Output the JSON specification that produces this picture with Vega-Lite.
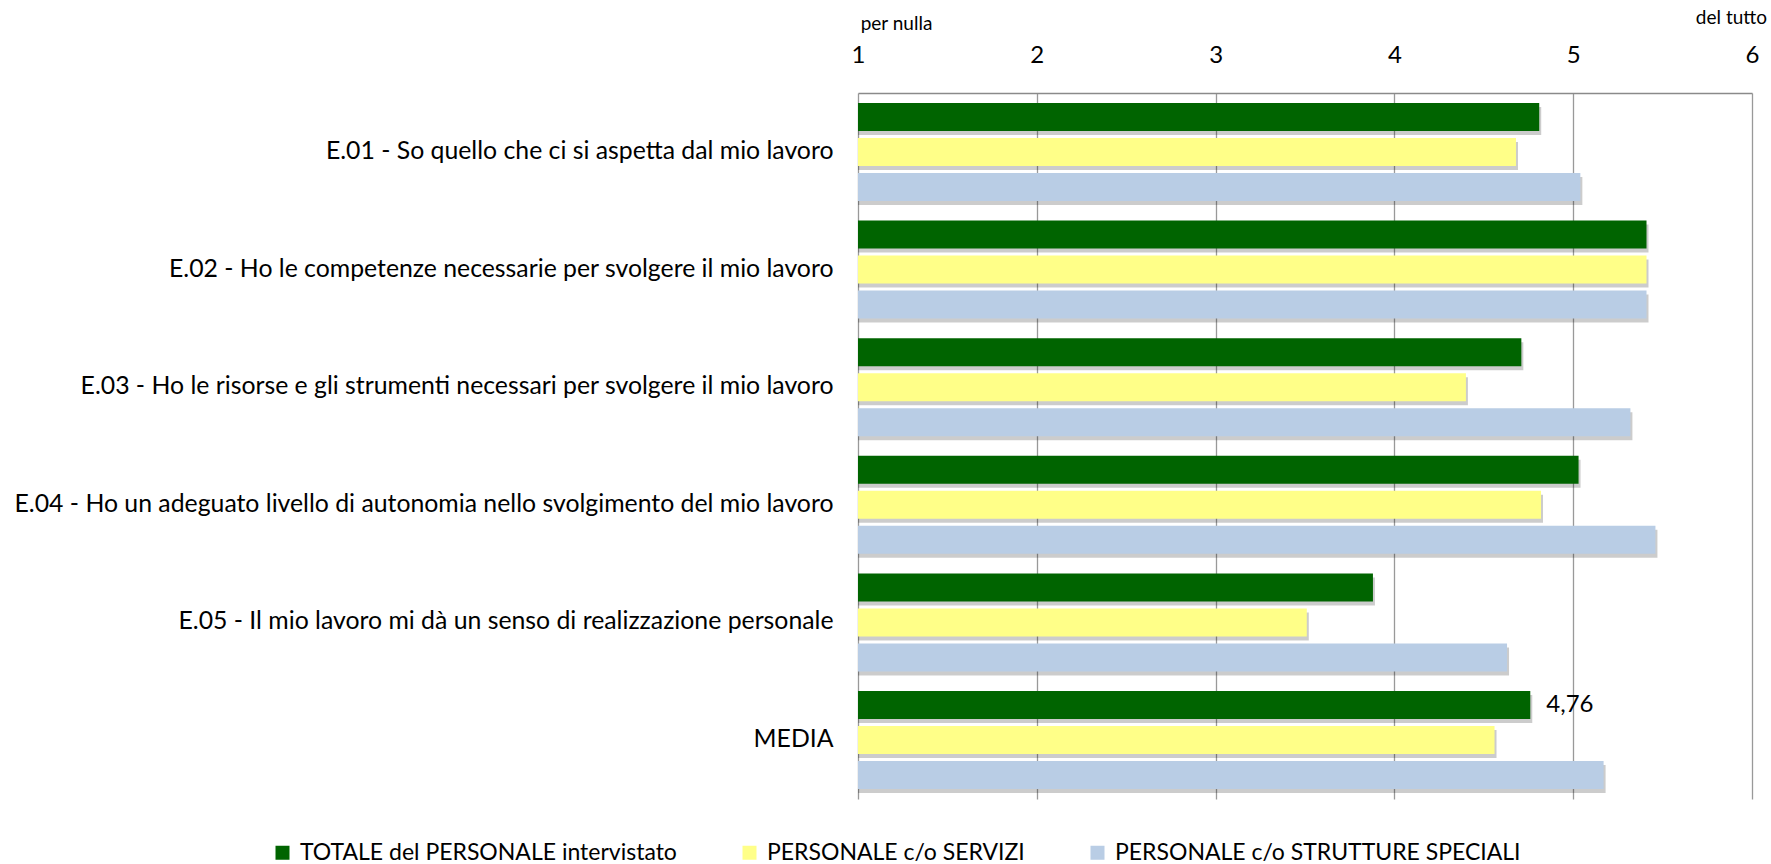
{
  "$schema": "https://vega.github.io/schema/vega-lite/v6.json",
  "width": 894,
  "height": 706,
  "autosize": "none",
  "padding": {"left": 858, "top": 93, "right": 19, "bottom": 65},
  "background": "white",
  "config": {
    "font": "Lato",
    "view": {"stroke": null},
    "locale": {"number": {"decimal": ",", "thousands": ".", "grouping": [3], "currency": ["", " €"]}}
  },
  "title": {
    "text": "del tutto",
    "anchor": "end",
    "frame": "group",
    "fontSize": 19,
    "fontWeight": "normal",
    "font": "Lato",
    "color": "#000000",
    "dx": 15,
    "offset": 0,
    "dy": 14
  },
  "data": {
    "values": [
      {"item": "E.01 - So quello che ci si aspetta dal mio lavoro", "series": "TOTALE del PERSONALE intervistato", "value": 4.81},
      {"item": "E.01 - So quello che ci si aspetta dal mio lavoro", "series": "PERSONALE c/o SERVIZI", "value": 4.68},
      {"item": "E.01 - So quello che ci si aspetta dal mio lavoro", "series": "PERSONALE c/o STRUTTURE SPECIALI", "value": 5.04},
      {"item": "E.02 - Ho le competenze necessarie per svolgere il mio lavoro", "series": "TOTALE del PERSONALE intervistato", "value": 5.41},
      {"item": "E.02 - Ho le competenze necessarie per svolgere il mio lavoro", "series": "PERSONALE c/o SERVIZI", "value": 5.41},
      {"item": "E.02 - Ho le competenze necessarie per svolgere il mio lavoro", "series": "PERSONALE c/o STRUTTURE SPECIALI", "value": 5.41},
      {"item": "E.03 - Ho le risorse e gli strumenti necessari per svolgere il mio lavoro", "series": "TOTALE del PERSONALE intervistato", "value": 4.71},
      {"item": "E.03 - Ho le risorse e gli strumenti necessari per svolgere il mio lavoro", "series": "PERSONALE c/o SERVIZI", "value": 4.40},
      {"item": "E.03 - Ho le risorse e gli strumenti necessari per svolgere il mio lavoro", "series": "PERSONALE c/o STRUTTURE SPECIALI", "value": 5.32},
      {"item": "E.04 - Ho un adeguato livello di autonomia nello svolgimento del mio lavoro", "series": "TOTALE del PERSONALE intervistato", "value": 5.03},
      {"item": "E.04 - Ho un adeguato livello di autonomia nello svolgimento del mio lavoro", "series": "PERSONALE c/o SERVIZI", "value": 4.82},
      {"item": "E.04 - Ho un adeguato livello di autonomia nello svolgimento del mio lavoro", "series": "PERSONALE c/o STRUTTURE SPECIALI", "value": 5.46},
      {"item": "E.05 - Il mio lavoro mi dà un senso di realizzazione personale", "series": "TOTALE del PERSONALE intervistato", "value": 3.88},
      {"item": "E.05 - Il mio lavoro mi dà un senso di realizzazione personale", "series": "PERSONALE c/o SERVIZI", "value": 3.51},
      {"item": "E.05 - Il mio lavoro mi dà un senso di realizzazione personale", "series": "PERSONALE c/o STRUTTURE SPECIALI", "value": 4.63},
      {"item": "MEDIA", "series": "TOTALE del PERSONALE intervistato", "value": 4.76},
      {"item": "MEDIA", "series": "PERSONALE c/o SERVIZI", "value": 4.56},
      {"item": "MEDIA", "series": "PERSONALE c/o STRUTTURE SPECIALI", "value": 5.17}
    ]
  },
  "encoding": {
    "y": {
      "field": "item",
      "type": "nominal",
      "sort": null,
      "scale": {"paddingInner": 0.167, "paddingOuter": 0.085},
      "axis": {
        "title": null,
        "domain": false,
        "ticks": false,
        "labelFontSize": 24.8,
        "labelFont": "Lato",
        "labelColor": "#000000",
        "labelPadding": 25,
        "labelLimit": 900
      }
    },
    "x": {
      "field": "value",
      "type": "quantitative",
      "scale": {"domain": [1, 6], "nice": false, "zero": false},
      "axis": {
        "orient": "top",
        "values": [1, 2, 3, 4, 5, 6],
        "format": "d",
        "title": "per nulla",
        "titleFontSize": 19,
        "titleFontWeight": "normal",
        "titleFont": "Lato",
        "titleColor": "#000000",
        "titleX": 38,
        "titleY": -70,
        "titleAlign": "center",
        "titleBaseline": "middle",
        "labelFontSize": 24,
        "labelFont": "Lato",
        "labelColor": "#000000",
        "labelPadding": 26,
        "labelBaseline": "bottom",
        "ticks": false,
        "tickSize": 0,
        "domain": true,
        "domainColor": "#8a8a8a",
        "domainWidth": 1.5,
        "grid": true,
        "gridColor": "#999999",
        "gridWidth": 1.3,
        "labelFlush": false
      }
    }
  },
  "resolve": {"scale": {"yOffset": "independent"}},
  "layer": [
    {
      "mark": {"type": "bar", "color": "#000000", "opacity": 0.2, "xOffset": 2},
      "encoding": {
        "x2": {"datum": 1},
        "yOffset": {
          "field": "series",
          "type": "nominal",
          "sort": ["TOTALE del PERSONALE intervistato", "PERSONALE c/o SERVIZI", "PERSONALE c/o STRUTTURE SPECIALI"],
          "scale": {"paddingInner": 0.2, "paddingOuter": 0, "range": [4, 102]}
        }
      }
    },
    {
      "layer": [
        {
          "mark": {"type": "bar"},
          "encoding": {
            "x2": {"datum": 1},
            "color": {
              "field": "series",
              "type": "nominal",
              "scale": {
                "domain": ["TOTALE del PERSONALE intervistato", "PERSONALE c/o SERVIZI", "PERSONALE c/o STRUTTURE SPECIALI"],
                "range": ["#006400", "#FFFF88", "#B9CDE5"]
              },
              "legend": {
                "title": null,
                "orient": "none",
                "legendX": -587,
                "legendY": 748,
                "direction": "horizontal",
                "columns": 3,
                "columnPadding": 61,
                "symbolType": "square",
                "symbolSize": 196,
                "symbolStrokeWidth": 0,
                "labelFontSize": 23,
                "labelFont": "Lato",
                "labelColor": "#000000",
                "labelOffset": 6,
                "labelLimit": 600
              }
            }
          }
        },
        {
          "transform": [{"filter": "datum.item === 'MEDIA' && datum.series === 'TOTALE del PERSONALE intervistato'"}],
          "mark": {"type": "text", "align": "left", "baseline": "middle", "dx": 16, "fontSize": 24, "font": "Lato", "color": "#000000"},
          "encoding": {
            "text": {"field": "value", "type": "quantitative", "format": ".2f"}
          }
        }
      ],
      "encoding": {
        "yOffset": {
          "field": "series",
          "type": "nominal",
          "sort": ["TOTALE del PERSONALE intervistato", "PERSONALE c/o SERVIZI", "PERSONALE c/o STRUTTURE SPECIALI"],
          "scale": {"paddingInner": 0.2, "paddingOuter": 0}
        }
      }
    }
  ]
}
